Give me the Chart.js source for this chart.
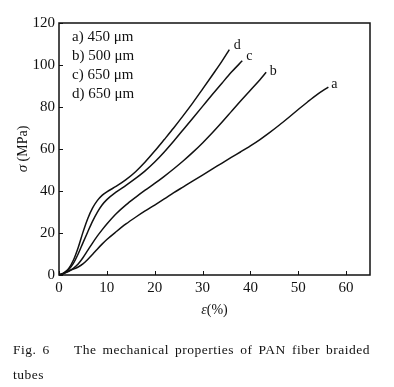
<!DOCTYPE html>
<html>
<head>
<meta charset="utf-8">
<script src="https://cdn.jsdelivr.net/npm/chart.js@4.4.0/dist/chart.umd.min.js"></script>
<style>
  body { margin: 0; background: #fff; }
  #wrap { position: relative; width: 394px; height: 387px; }
  .cap { position: absolute; left: 13px; font-family: "Liberation Serif", "DejaVu Serif", serif; font-size: 13.5px; color: #111; letter-spacing: 0.5px; }
</style>
</head>
<body>
<div id="wrap">
  <canvas id="chart" width="394" height="387"></canvas>
  <div class="cap" style="top:342px; width:357px; text-align:justify; text-align-last:justify;">Fig. 6&nbsp;&nbsp;&nbsp; The mechanical properties of PAN fiber braided</div>
  <div class="cap" style="top:367px;">tubes</div>
</div>
<script>
// strain (%) and stress (MPa)
const strainA = [0, 1, 2, 3, 4, 5, 6, 7, 8, 9, 10, 12, 14, 16, 18, 20, 22, 24, 26, 28, 30, 32, 34, 36, 38, 40, 42, 44, 46, 48, 50, 52, 54, 56.3];
const stressA = [0, 0.8, 1.8, 2.8, 3.8, 5.3, 7.4, 9.8, 12.3, 14.7, 16.9, 20.7, 24.3, 27.5, 30.5, 33.3, 36.2, 39.2, 42, 44.8, 47.6, 50.4, 53.2, 56, 58.7, 61.5, 64.5, 67.8, 71.3, 75, 78.8, 82.5, 86, 89.5];

const strainB = [0, 1, 2, 3, 4, 5, 6, 7, 8, 9, 10, 12, 14, 16, 18, 20, 22, 24, 26, 28, 30, 32, 34, 36, 38, 40, 42, 43.3];
const stressB = [0, 0.7, 1.8, 3.2, 5.2, 8.2, 11.7, 15.2, 18.5, 21.5, 24.3, 29.3, 33.4, 37, 40.4, 43.6, 47, 50.6, 54.4, 58.5, 62.9, 67.6, 72.6, 77.8, 83, 88, 93, 96.5];

const strainC = [0, 1, 2, 3, 4, 5, 6, 7, 8, 9, 10, 12, 14, 16, 18, 20, 22, 24, 26, 28, 30, 32, 34, 36, 38.3];
const stressC = [0, 0.8, 2.5, 5.5, 10, 15.3, 20.5, 25.5, 29.8, 33.3, 35.9, 39.6, 42.7, 46, 49.6, 53.8, 58.6, 63.8, 69.3, 74.8, 80.3, 85.8, 91.2, 96.5, 102];

const strainD = [0, 1, 2, 3, 4, 5, 6, 7, 8, 9, 10, 12, 14, 16, 18, 20, 22, 24, 26, 28, 30, 32, 34, 35.6];
const stressD = [0, 1, 3, 7, 13, 20.3, 26.8, 31.8, 35.4, 37.9, 39.6, 42.3, 45.4, 49.2, 53.8, 59, 64.5, 70.1, 76, 82.1, 88.5, 95, 101.6, 107.3];

const curveNames = ['a', 'b', 'c', 'd'];
const legendLines = ['a) 450 μm', 'b) 500 μm', 'c) 650 μm', 'd) 650 μm'];
const xTicks = [0, 10, 20, 30, 40, 50, 60];
const yTicks = [0, 20, 40, 60, 80, 100, 120];

const serif = '"Liberation Serif", "DejaVu Serif", serif';
const ink = '#111';

const toPoints = (xs, ys) => xs.map((x, i) => ({ x: x, y: ys[i] }));
const series = [toPoints(strainA, stressA), toPoints(strainB, stressB), toPoints(strainC, stressC), toPoints(strainD, stressD)];

// offsets for the little letters next to each curve end
const labelOffsets = [[6, -3], [7, -1], [7, -4], [8, -4]];

const decor = {
    id: 'decor',
    afterDraw(chart) {
        const ctx = chart.ctx;
        const area = chart.chartArea;
        const xs = chart.scales.x, ys = chart.scales.y;
        ctx.save();
        ctx.strokeStyle = ink;
        ctx.lineWidth = 1.5;
        ctx.strokeRect(area.left, area.top, area.right - area.left, area.bottom - area.top);

        // inward tick marks
        ctx.lineWidth = 1;
        ctx.beginPath();
        xTicks.forEach(v => {
            const px = Math.round(xs.getPixelForValue(v)) + 0.5;
            ctx.moveTo(px, area.bottom);
            ctx.lineTo(px, area.bottom - 4);
        });
        yTicks.forEach(v => {
            const py = Math.round(ys.getPixelForValue(v)) + 0.5;
            ctx.moveTo(area.left, py);
            ctx.lineTo(area.left + 4, py);
        });
        ctx.stroke();

        ctx.fillStyle = ink;
        ctx.textBaseline = 'middle';
        ctx.font = '15px ' + serif;
        legendLines.forEach((t, i) => {
            ctx.fillText(t, area.left + 13, area.top + 14 + i * 19);
        });

        // curve letters
        ctx.font = '14px ' + serif;
        series.forEach((pts, i) => {
            const last = pts[pts.length - 1];
            const px = xs.getPixelForValue(last.x) + labelOffsets[i][0];
            const py = ys.getPixelForValue(last.y) + labelOffsets[i][1];
            ctx.textAlign = 'center';
            ctx.fillText(curveNames[i], px, py);
        });

        // axis titles
        ctx.textAlign = 'left';
        const cx = (area.left + area.right) / 2;
        ctx.font = 'italic 14px ' + serif;
        const w1 = ctx.measureText('ε').width;
        ctx.font = '14px ' + serif;
        const w2 = ctx.measureText('(%)').width;
        let sx = cx - (w1 + w2) / 2;
        ctx.font = 'italic 14px ' + serif;
        ctx.fillText('ε', sx, 310);
        ctx.font = '14px ' + serif;
        ctx.fillText('(%)', sx + w1, 310);

        ctx.translate(23, (area.top + area.bottom) / 2);
        ctx.rotate(-Math.PI / 2);
        ctx.font = 'italic 15px ' + serif;
        const s1 = ctx.measureText('σ').width;
        ctx.font = '14px ' + serif;
        const s2 = ctx.measureText(' (MPa)').width;
        sx = -(s1 + s2) / 2;
        ctx.font = 'italic 15px ' + serif;
        ctx.fillText('σ', sx, 0);
        ctx.font = '14px ' + serif;
        ctx.fillText(' (MPa)', sx + s1, 0);
        ctx.restore();
    }
};

new Chart(document.getElementById('chart'), {
    type: 'line',
    data: {
        datasets: series.map((pts, i) => ({
            label: curveNames[i],
            data: pts,
            borderColor: ink,
            borderWidth: 1.5,
            pointRadius: 0,
            cubicInterpolationMode: 'monotone',
            fill: false
        }))
    },
    options: {
        responsive: false,
        animation: false,
        layout: { padding: { left: 0, right: 24, top: 23, bottom: 72 } },
        plugins: { legend: { display: false }, tooltip: { enabled: false } },
        scales: {
            x: {
                type: 'linear',
                min: 0, max: 65,
                afterFit: s => { s.height = 40; },
                afterBuildTicks: s => { s.ticks = xTicks.map(v => ({ value: v })); },
                grid: { display: false, drawTicks: false },
                border: { display: false },
                ticks: { color: ink, padding: 4, font: { family: serif, size: 15 } }
            },
            y: {
                type: 'linear',
                min: 0, max: 120,
                afterFit: s => { s.width = 59; },
                afterBuildTicks: s => { s.ticks = yTicks.map(v => ({ value: v })); },
                grid: { display: false, drawTicks: false },
                border: { display: false },
                ticks: { color: ink, padding: 4, font: { family: serif, size: 15 } }
            }
        }
    },
    plugins: [decor]
});
</script>
</body>
</html>
